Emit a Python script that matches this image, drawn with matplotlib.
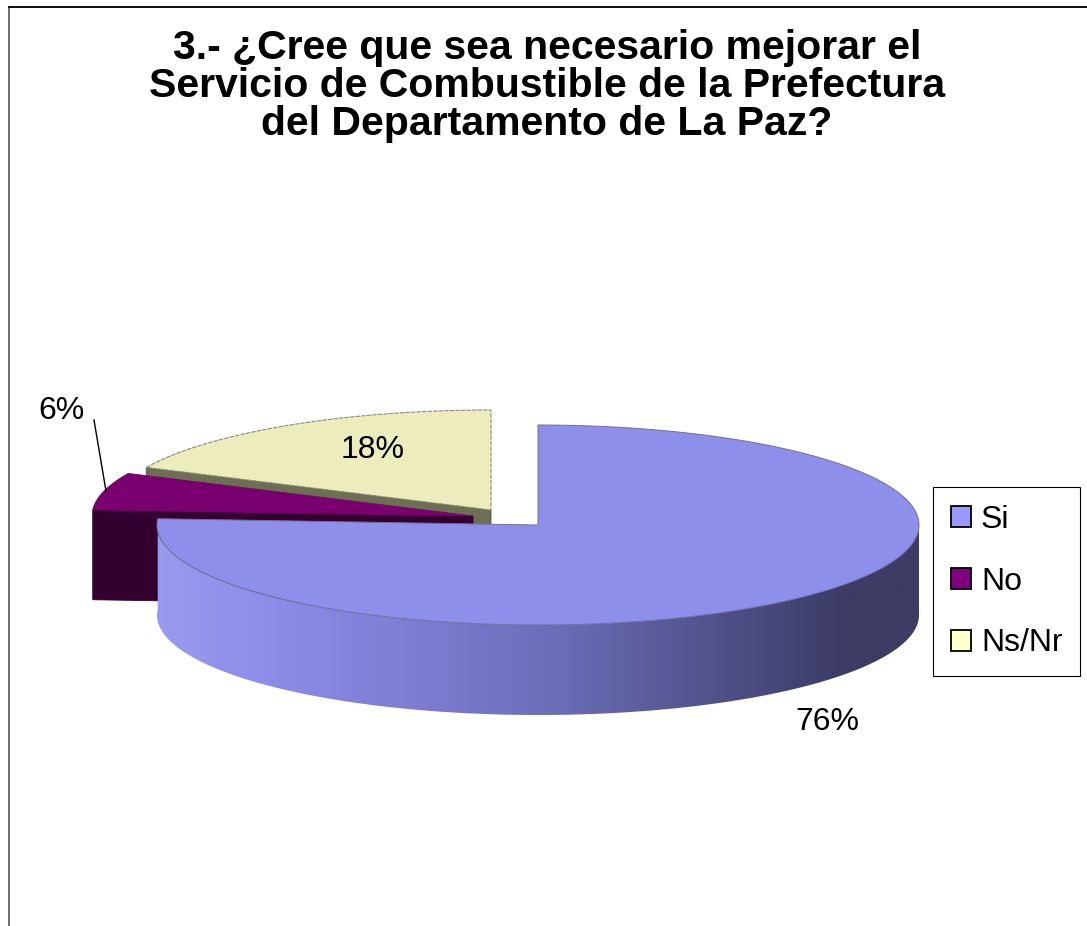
import numpy as np
import matplotlib
matplotlib.use('Agg')
import matplotlib.pyplot as plt
from matplotlib.colors import LinearSegmentedColormap
from matplotlib.patches import Patch, Polygon

plt.rcParams['font.family'] = ['Liberation Sans', 'DejaVu Sans']

title = ("3.- ¿Cree que sea necesario mejorar el\n"
         "Servicio de Combustible de la Prefectura\n"
         "del Departamento de La Paz?")
labels = ['Si', 'No', 'Ns/Nr']
values = [76, 6, 18]
pct_labels = ['76%', '6%', '18%']

legend_colors = ['#9999FF', '#800080', '#FFFFCC']
top_colors = ['#8E8EEB', '#7A0070', '#ECECBC']
side_colors = ['#8E8EEB', '#33002F', '#6E6E55']

# Pixel layout of the exploded slices
centers = [(538, 525), (473, 516), (491, 510)]
rx, ry = 381, 100
depth = 90


def arc(center, t0, t1, drop=0):
    # t is measured clockwise from 12 o'clock, squashed into an ellipse
    t = np.radians(np.linspace(t0, t1, 200))
    x = center[0] + rx * np.sin(t)
    y = center[1] - ry * np.cos(t) + drop
    return np.column_stack([x, y])


edges = np.cumsum([0] + values) / sum(values) * 360

fig = plt.figure(figsize=(10.87, 9.26), dpi=100)
ax = fig.add_axes([0, 0, 1, 1])
ax.set_xlim(0, 1087)
ax.set_ylim(926, 0)
ax.axis('off')

# Chart frame, cut off at the right and bottom
ax.plot([8.5, 8.5, 1087], [926, 6.5, 6.5], color='#555555', linewidth=1.2)
ax.plot([8.5, 1087], [6.5, 6.5], color='black', linewidth=1.2)

ax.text(547, 86, title, fontsize=29.5, fontweight='bold', ha='center', va='center',
        linespacing=1.0)

# Ns/Nr slice: cut face first, then the top
c = centers[2]
start = arc(c, edges[2], edges[2])[0]
ax.add_patch(Polygon([start, c, (c[0], c[1] + depth), (start[0], start[1] + depth)],
                     facecolor=side_colors[2], edgecolor='#555544', linewidth=0.6, zorder=2))
top = np.vstack([arc(c, edges[2], edges[3]), [c]])
ax.add_patch(Polygon(top, facecolor=top_colors[2], edgecolor='#8C8C78', linewidth=0.8,
                     linestyle=(0, (4, 1)), zorder=3))

# No slice
c = centers[1]
start = arc(c, edges[1], edges[1])[0]
ax.add_patch(Polygon([start, c, (c[0], c[1] + depth), (start[0], start[1] + depth)],
                     facecolor=side_colors[1], edgecolor=side_colors[1], linewidth=0.6, zorder=4))
top = np.vstack([arc(c, edges[1], edges[2]), [c]])
ax.add_patch(Polygon(top, facecolor=top_colors[1], edgecolor=top_colors[1], linewidth=0.6, zorder=5))

# Si slice: shaded wall below the top
c = centers[0]
wall = np.vstack([arc(c, 90, edges[1]), arc(c, 90, edges[1], drop=depth)[::-1]])
wall_patch = Polygon(wall, facecolor='none', edgecolor='none', zorder=6)
ax.add_patch(wall_patch)
shade = LinearSegmentedColormap.from_list(
    'shade', [(0, '#9A9AEE'), (0.13, '#8E8EEB'), (0.5, '#6F6FBE'), (0.9, '#3C3C66'), (1, '#3C3C64')])
img = ax.imshow(np.linspace(0, 1, 256)[None, :], cmap=shade, aspect='auto', zorder=6,
                extent=[c[0] - rx, c[0] + rx, 726, 420])
img.set_clip_path(wall_patch)
ax.set_xlim(0, 1087)
ax.set_ylim(926, 0)
top = np.vstack([[c], arc(c, edges[0], edges[1])])
ax.add_patch(Polygon(top, facecolor=top_colors[0], edgecolor='#6E6E9E', linewidth=0.7, zorder=7))

# Percent labels
ax.text(827, 722, pct_labels[0], fontsize=23, ha='center', va='center', zorder=8)
ax.text(62, 411, pct_labels[1], fontsize=23, ha='center', va='center', zorder=8)
ax.text(373, 450, pct_labels[2], fontsize=23, ha='center', va='center', zorder=8)
ax.plot([94, 106], [420, 491], color='black', linewidth=1, zorder=8)

handles = [Patch(facecolor=col, edgecolor='black', linewidth=1.3) for col in legend_colors]
leg = ax.legend(handles, labels, loc='upper left', bbox_to_anchor=(933 / 1087, 1 - 487 / 926),
                fontsize=23, borderaxespad=0, borderpad=0.55, labelspacing=1.0,
                handlelength=0.63, handleheight=0.63, handletextpad=0.32,
                fancybox=False, framealpha=1, edgecolor='black')
leg.get_frame().set_linewidth(0.8)
leg.set_zorder(9)

fig.savefig('out.png', dpi=100)
